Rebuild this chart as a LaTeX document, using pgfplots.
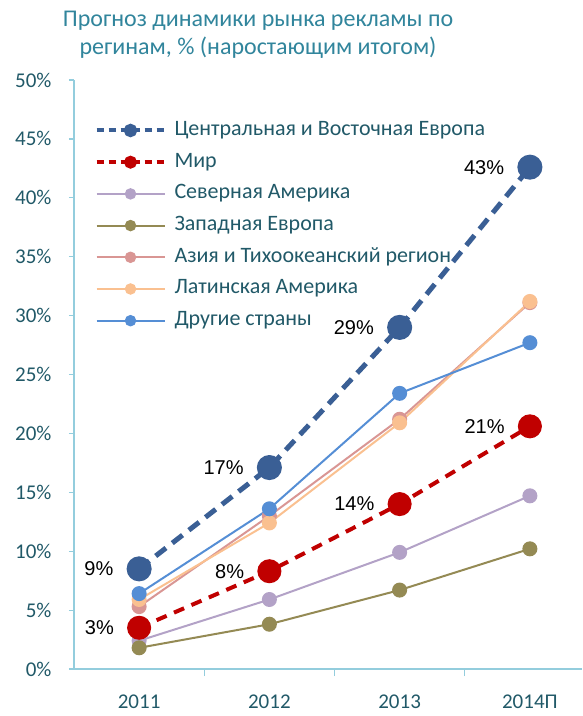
\documentclass[border=0pt]{standalone}
\usepackage{fontspec}
\setmainfont{Carlito}
\newfontfamily\arialf{Liberation Sans}
\usepackage{pgfplots}
\pgfplotsset{compat=1.18}

\definecolor{cee}{HTML}{3A5F95}
\definecolor{mir}{HTML}{C00000}
\definecolor{nam}{HTML}{B3A2C7}
\definecolor{weu}{HTML}{948A54}
\definecolor{apac}{HTML}{D99694}
\definecolor{lat}{HTML}{FAC090}
\definecolor{oth}{HTML}{558ED5}
\definecolor{axcol}{HTML}{93CDDD}
\definecolor{tickcol}{HTML}{215968}
\definecolor{titlecol}{HTML}{31859C}

\begin{document}
\begin{tikzpicture}[x=1pt,y=1pt]
\useasboundingbox (0,0) rectangle (582,716);
\node[font=\fontsize{24}{28}\selectfont, text=titlecol, align=center] at (258,681)
  {Прогноз динамики рынка рекламы по\\регинам, \% (наростающим итогом)};
\begin{axis}[
  at={(74pt,47pt)}, anchor=south west,
  scale only axis, width=508pt, height=589pt,
  xmin=-0.5, xmax=3.4, ymin=0, ymax=50,
  axis x line*=bottom, axis y line*=left,
  axis line style={draw=axcol, line width=1.2pt},
  every tick/.style={draw=axcol, line width=1.2pt},
  tick align=outside, major tick length=5pt, minor tick length=7pt,
  xtick={0,1,2,3}, xticklabels={2011,2012,2013,2014П},
  major x tick style={draw=none},
  minor xtick={0.5,1.5,2.5},
  ytick={0,5,...,50},
  yticklabel={\pgfmathprintnumber{\tick}\%},
  /pgf/number format/assume math mode=true,
  ticklabel style={font=\fontsize{21}{21}\selectfont, text=tickcol},
  xticklabel style={yshift=-17pt},
  yticklabel style={xshift=-14pt},
  clip=false,
  legend cell align=left,
  legend style={draw=none, fill=none, at={(0.04,0.935)}, anchor=north west,
    font=\fontsize{22}{22}\selectfont, text=tickcol, row sep=7.7pt,
    inner sep=0pt, nodes={inner sep=2pt, text height=15pt, text depth=5pt},
    /tikz/every odd column/.append style={column sep=6pt}},
  legend image code/.code={\draw[mark repeat=2,mark phase=2,#1,mark size=4.7pt]
    plot coordinates {(0pt,0pt)(34pt,0pt)(68pt,0pt)};},
  every node near coord/.append style={font=\arialf\fontsize{20}{20}\selectfont, text=black},
]
\addlegendimage{cee, line width=4pt, dash pattern=on 7pt off 5pt, mark=*, mark options={solid}}
\addlegendentry{Центральная и Восточная Европа}
\addlegendimage{mir, line width=3.5pt, dash pattern=on 7pt off 5pt, mark=*, mark options={solid}}
\addlegendentry{Мир}
\addlegendimage{nam, line width=2pt, mark=*}
\addlegendentry{Северная Америка}
\addlegendimage{weu, line width=2pt, mark=*}
\addlegendentry{Западная Европа}
\addlegendimage{apac, line width=2pt, mark=*}
\addlegendentry{Азия и Тихоокеанский регион}
\addlegendimage{lat, line width=2pt, mark=*}
\addlegendentry{Латинская Америка}
\addlegendimage{oth, line width=2pt, mark=*}
\addlegendentry{Другие страны}

% North America
\addplot[forget plot, nam, line width=2pt, mark=*, mark size=6.5pt]
  coordinates {(0,2.4) (1,5.9) (2,9.9) (3,14.7)};
% Western Europe
\addplot[forget plot, weu, line width=2pt, mark=*, mark size=6.5pt]
  coordinates {(0,1.8) (1,3.8) (2,6.7) (3,10.2)};
% Asia-Pacific
\addplot[forget plot, apac, line width=2pt, mark=*, mark size=6.5pt]
  coordinates {(0,5.3) (1,13.0) (2,21.2) (3,31.1)};
% Latin America
\addplot[forget plot, lat, line width=2pt, mark=*, mark size=6.5pt]
  coordinates {(0,5.9) (1,12.4) (2,20.9) (3,31.2)};
% Other countries
\addplot[forget plot, oth, line width=2pt, mark=*, mark size=6.5pt]
  coordinates {(0,6.4) (1,13.6) (2,23.4) (3,27.7)};
% World
\addplot[forget plot, mir, line width=4pt, dash pattern=on 11pt off 8pt,
  mark=*, mark size=10pt, mark options={solid},
  nodes near coords, point meta=explicit symbolic,
  nodes near coords style={anchor=east, xshift=-20pt, yshift=0pt}]
  coordinates {(0,3.5) [3\%] (1,8.3) [8\%] (2,14.0) [14\%] (3,20.6) [21\%]};
% Central and Eastern Europe
\addplot[forget plot, cee, line width=5pt, dash pattern=on 13pt off 8pt,
  mark=*, mark size=10pt, mark options={solid},
  nodes near coords, point meta=explicit symbolic,
  nodes near coords style={anchor=east, xshift=-20pt, yshift=0pt}]
  coordinates {(0,8.5) [9\%] (1,17.1) [17\%] (2,29.0) [29\%] (3,42.6) [43\%]};
\end{axis}
\end{tikzpicture}
\end{document}
